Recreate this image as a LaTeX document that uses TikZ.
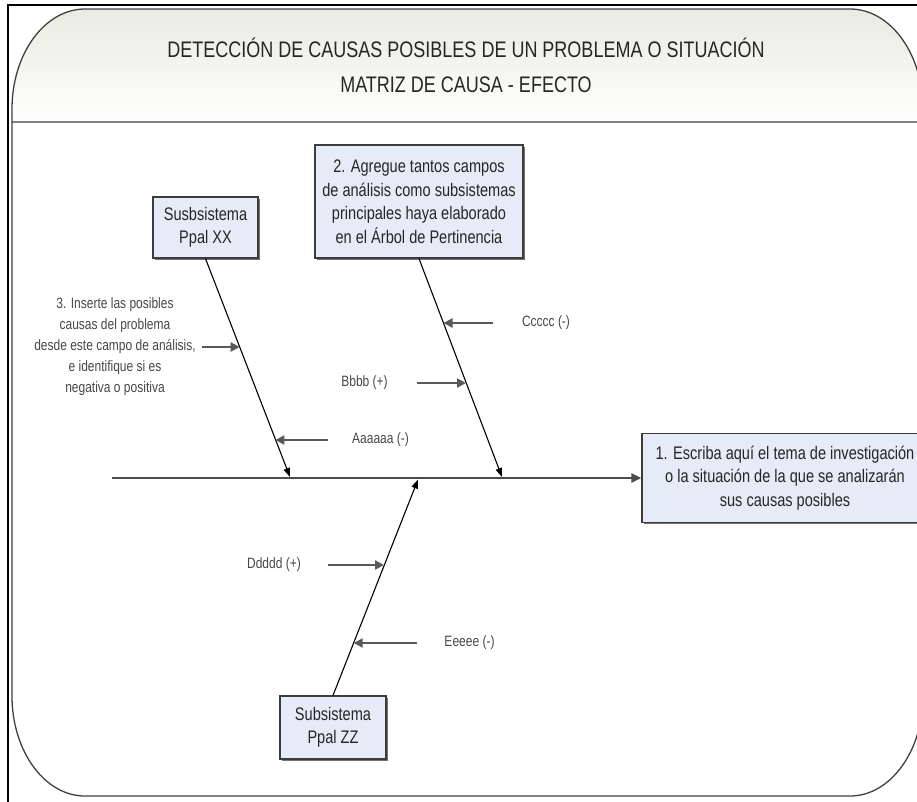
\documentclass[tikz,border=0pt]{standalone}
\usepackage{fontspec}
\setmainfont{Liberation Sans}
\newfontfamily\narrowsf[FakeStretch=0.8]{Liberation Sans}
\usetikzlibrary{arrows.meta,positioning,shadows}
\definecolor{boxfill}{RGB}{229,235,247}
\definecolor{headtop}{RGB}{233,234,224}
\definecolor{linegray}{RGB}{60,60,60}

\begin{document}
\begin{tikzpicture}[
    x=1pt, y=-1pt,
    frame/.style={draw=black!75, line width=1.3pt},
    campo/.style={draw=linegray, line width=1.2pt, fill=boxfill, align=center, inner sep=0pt,
        font=\narrowsf\fontsize{18.2}{23.5}\selectfont, text=black!85,
        drop shadow={shadow xshift=1.6pt, shadow yshift=-1.6pt, fill=black!55, opacity=1}},
    titulo/.style={align=center, font=\narrowsf\fontsize{22.5}{35}\selectfont, text=black!85},
    causa/.style={align=center, font=\narrowsf\fontsize{15}{21}\selectfont, text=black!72},
    espina/.style={-{Triangle[length=10pt, width=9pt]}, line width=2.6pt, draw=black!70},
    hueso/.style={-{Triangle[length=9pt, width=6.5pt]}, line width=1.1pt, draw=black},
    flecha/.style={-{Triangle[length=9pt, width=9pt]}, line width=2.6pt, draw=black!65},
]
\useasboundingbox (0,0) rectangle (917,801);
\clip (0,0) rectangle (917,801);

% ── Frame ──
\draw[black, line width=1.3pt] (8,810) -- (8,5) -- (930,5);
\draw[frame, top color=headtop, bottom color=white] (12,122) -- (12,109)
    .. controls (12,53.8) and (44.7,9) .. (85,9) -- (850,9)
    .. controls (890.3,9) and (923,53.8) .. (923,109) -- (923,122) -- cycle;
\draw[frame] (12,122) -- (12,696) .. controls (12,751.2) and (44.7,796) .. (85,796)
    -- (850,796) .. controls (890.3,796) and (923,751.2) .. (923,696) -- (923,122);

% ── Title ──
\node[titulo] (tit) at (466,65) {DETECCIÓN DE CAUSAS POSIBLES DE UN PROBLEMA O SITUACIÓN\\MATRIZ DE CAUSA - EFECTO};

% ── Fields ──
\node[campo, minimum width=105pt, minimum height=61pt] (xx) at (205.5,227.5) {Susbsistema\\Ppal XX};
\node[campo, minimum width=208pt, minimum height=113pt] (dos) at (419,201.5) {2. Agregue tantos campos\\de análisis como subsistemas\\principales haya elaborado\\en el Árbol de Pertinencia};
\node[campo, minimum width=286pt, minimum height=89pt] (res) at (785,478) {1. Escriba aquí el tema de investigación\\o la situación de la que se analizarán\\sus causas posibles};
\node[campo, minimum width=106pt, minimum height=63pt] (zz) at (333,727.5) {Subsistema\\Ppal ZZ};

% ── Spine and bones ──
\coordinate (cola) at (112,478);
\coordinate (jxx) at (290,477);
\coordinate (jdos) at (502,477);
\coordinate (jzz) at (418,479.5);
\draw[espina] (cola) -- (res.west);
\draw[hueso] (xx.south) -- (jxx);
\draw[hueso] (dos.south) -- (jdos);
\draw[hueso] (zz.north) -- (jzz);

% ── Causes ──
\node[causa] (nota) at (115,347) {3. Inserte las posibles\\causas del problema\\desde este campo de análisis,\\e identifique si es\\negativa o positiva};
\node[causa] (ca) at (380.5,440) {Aaaaaa (-)};
\node[causa] (cb) at (364.5,383) {Bbbb (+)};
\node[causa] (cc) at (546,323) {Ccccc (-)};
\node[causa] (cd) at (274,565) {Ddddd (+)};
\node[causa] (ce) at (469.5,643) {Eeeee (-)};

\coordinate (s3) at (202,347);  \coordinate (e3) at (239.7,347);
\coordinate (sa) at (328,440);  \coordinate (ea) at (275.4,440);
\coordinate (sb) at (417,383);  \coordinate (eb) at (466,383);
\coordinate (sc) at (493,323);  \coordinate (ec) at (443.5,323);
\coordinate (sd) at (328,565);  \coordinate (ed) at (384,565);
\coordinate (se) at (417,643);  \coordinate (ee) at (353.7,643);
\draw[flecha] (s3) -- (e3);
\draw[flecha] (sa) -- (ea);
\draw[flecha] (sb) -- (eb);
\draw[flecha] (sc) -- (ec);
\draw[flecha] (sd) -- (ed);
\draw[flecha] (se) -- (ee);

\end{tikzpicture}
\end{document}
